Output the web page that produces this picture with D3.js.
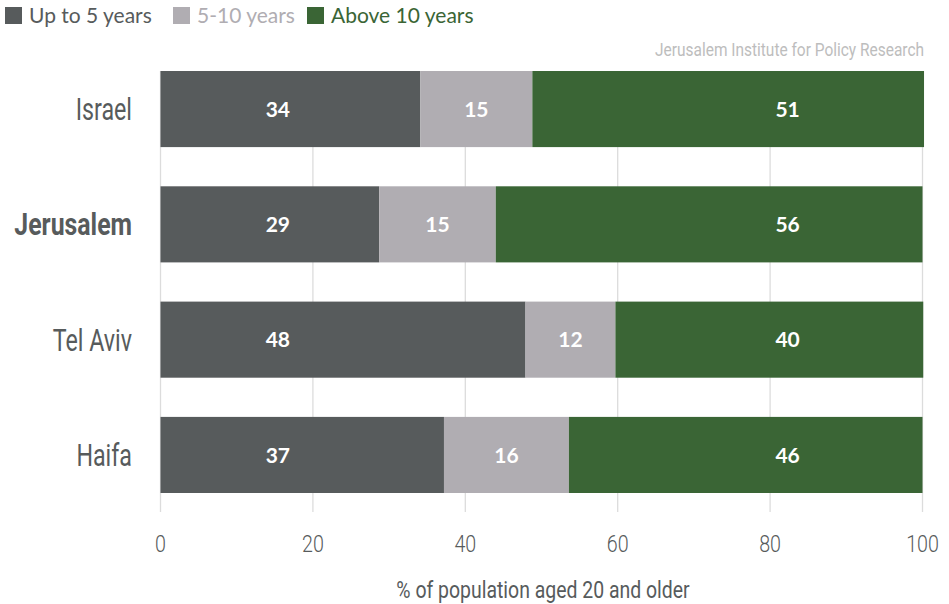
<!DOCTYPE html>
<html>
<head>
<meta charset="utf-8">
<script src="https://cdn.jsdelivr.net/npm/d3@7"></script>
<style>
  body { margin: 0; background: #fff; }
  svg { display: block; }
  .cond { font-family: Roboto, "DejaVu Sans", sans-serif; }
</style>
</head>
<body>
<div id="canvas"></div>
<script>
var cities = ['Israel', 'Jerusalem', 'Tel Aviv', 'Haifa'];
var seriesNames = ['Up to 5 years', '5-10 years', 'Above 10 years'];
var upTo5 = [34.1, 28.7, 47.9, 37.2];
var from5to10 = [14.7, 15.3, 11.8, 16.4];
var above10 = [51.4, 56.0, 40.4, 46.4];
var xTicks = [0, 20, 40, 60, 80, 100];

var colors = ['#575b5c', '#b0adb2', '#3a6535'];
// label anchors in data units: first and last segments keep a fixed spot, middle is centred
var labelAt = [15.4, null, 82.3];

var W = 949, H = 604;
var svg = d3.select('#canvas').append('svg')
    .attr('width', W).attr('height', H);

var rows = cities.map(function(c, i){
    return {city: c, vals: [upTo5[i], from5to10[i], above10[i]]};
});

var x = d3.scaleLinear().domain([0, 100]).range([160.5, 922.5]);
var y = d3.scaleBand().domain(cities).range([51.4, 512.6])
    .paddingInner(0.34).paddingOuter(0.17);

// condensed text: Roboto squeezed horizontally
function condText(sel, px, py, sx){
    return sel.append('text')
        .attr('class', 'cond')
        .attr('transform', 'translate(' + px + ',' + py + ') scale(' + sx + ',1)');
}

// gridlines
svg.append('g').selectAll('line')
    .data(xTicks).enter().append('line')
    .attr('x1', function(d){ return x(d); })
    .attr('x2', function(d){ return x(d); })
    .attr('y1', y(cities[0]))
    .attr('y2', 512)
    .attr('stroke', '#dcdcdc').attr('stroke-width', 1.3);

// bars
var rowG = svg.append('g').selectAll('g')
    .data(rows).enter().append('g');

rowG.each(function(r){
    var g = d3.select(this);
    var acc = 0;
    r.vals.forEach(function(v, k){
        var x0 = x(acc), x1 = x(acc + v);
        g.append('rect')
            .attr('x', x0).attr('y', y(r.city))
            .attr('width', x1 - x0).attr('height', y.bandwidth())
            .attr('fill', colors[k]);
        g.append('text')
            .attr('x', labelAt[k] === null ? (x0 + x1) / 2 : x(labelAt[k]))
            .attr('y', y(r.city) + y.bandwidth() / 2)
            .attr('dy', '0.36em')
            .attr('text-anchor', 'middle')
            .attr('fill', '#fff')
            .style('font-family', 'Lato, sans-serif')
            .style('font-weight', 'bold')
            .style('font-size', '21px')
            .text(Math.round(v));
        acc += v;
    });
});

// category labels
cities.forEach(function(c){
    var bold = c === 'Jerusalem';
    condText(svg, 132, y(c) + y.bandwidth() / 2 + 11, bold ? 0.8 : 0.75)
        .attr('text-anchor', 'end')
        .attr('fill', '#575b5c')
        .style('font-size', '31px')
        .style('font-weight', bold ? 'bold' : 'normal')
        .text(c);
});

// x axis tick labels
xTicks.forEach(function(t){
    condText(svg, x(t), 552, 0.82)
        .attr('text-anchor', 'middle')
        .attr('fill', '#575b5c')
        .style('font-size', '24px')
        .style('font-weight', 300)
        .text(t);
});

condText(svg, 543, 598, 0.81)
    .attr('text-anchor', 'middle')
    .attr('fill', '#575b5c')
    .style('font-size', '24px')
    .text('% of population aged 20 and older');

// source
condText(svg, 924, 56, 0.86)
    .attr('text-anchor', 'end')
    .attr('fill', '#bdbdbd')
    .style('font-size', '18px')
    .text('Jerusalem Institute for Policy Research');

// legend
var legX = [5, 173, 307];
var leg = svg.append('g').selectAll('g')
    .data(seriesNames).enter().append('g')
    .attr('transform', function(d, i){ return 'translate(' + legX[i] + ',0)'; });
leg.append('rect')
    .attr('x', 0).attr('y', 7).attr('width', 17).attr('height', 17)
    .attr('fill', function(d, i){ return colors[i]; });
leg.append('text')
    .attr('x', 24).attr('y', 23)
    .attr('fill', function(d, i){ return colors[i]; })
    .style('font-family', 'Lato, sans-serif')
    .style('font-size', '21px')
    .text(function(d){ return d; });
</script>
</body>
</html>
